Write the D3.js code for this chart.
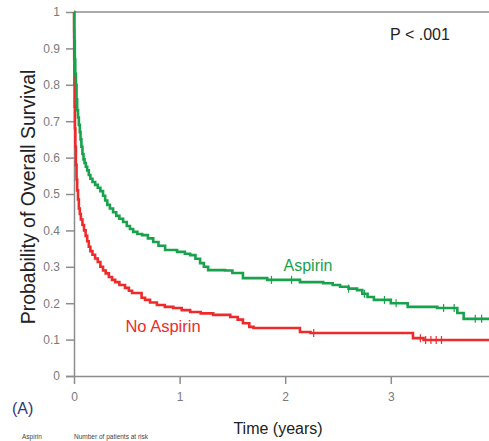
<!DOCTYPE html>
<html>
<head>
<meta charset="utf-8">
<script src="https://cdn.jsdelivr.net/npm/d3@7"></script>
<style>
  body { margin: 0; background: #fff; }
  svg { display: block; font-family: "Liberation Sans", Arial, sans-serif; }
</style>
</head>
<body>
<svg id="chart" width="489" height="441"></svg>
<script>
// Kaplan-Meier estimates: [time (years), survival]
var aspirinCurve = [
  [0, 1.0], [0.002, 0.95], [0.004, 0.92], [0.008, 0.87], [0.012, 0.83],
  [0.018, 0.8], [0.024, 0.76], [0.03, 0.73], [0.038, 0.71], [0.046, 0.69],
  [0.055, 0.67], [0.062, 0.65], [0.07, 0.63], [0.08, 0.61], [0.09, 0.595],
  [0.1, 0.585], [0.112, 0.575], [0.125, 0.565], [0.14, 0.552], [0.155, 0.542],
  [0.175, 0.533], [0.2, 0.525], [0.225, 0.517], [0.25, 0.508], [0.275, 0.495],
  [0.295, 0.482], [0.315, 0.47], [0.34, 0.46], [0.37, 0.45], [0.4, 0.44],
  [0.43, 0.432], [0.465, 0.423], [0.5, 0.412], [0.53, 0.404], [0.56, 0.396],
  [0.6, 0.39], [0.645, 0.387], [0.7, 0.378], [0.75, 0.368], [0.8, 0.358],
  [0.863, 0.346], [0.976, 0.341], [1.05, 0.336], [1.1, 0.332], [1.15, 0.322],
  [1.194, 0.31], [1.23, 0.3], [1.27, 0.291], [1.43, 0.29], [1.5, 0.283],
  [1.6, 0.269], [1.83, 0.264], [2.14, 0.258], [2.36, 0.255], [2.45, 0.25],
  [2.52, 0.245], [2.6, 0.24], [2.68, 0.236], [2.73, 0.226], [2.78, 0.217],
  [2.84, 0.209], [3.0, 0.2], [3.16, 0.19], [3.44, 0.187], [3.63, 0.173],
  [3.69, 0.157], [3.93, 0.157]
];
var noAspirinCurve = [
  [0, 1.0], [0.001, 0.93], [0.002, 0.87], [0.004, 0.8], [0.006, 0.74],
  [0.009, 0.68], [0.013, 0.63], [0.018, 0.58], [0.024, 0.54], [0.03, 0.51],
  [0.038, 0.485], [0.046, 0.46], [0.055, 0.445], [0.065, 0.43], [0.08, 0.415],
  [0.095, 0.4], [0.11, 0.385], [0.125, 0.37], [0.14, 0.355], [0.155, 0.343],
  [0.175, 0.333], [0.2, 0.323], [0.225, 0.313], [0.25, 0.3], [0.275, 0.29],
  [0.3, 0.282], [0.33, 0.272], [0.36, 0.264], [0.39, 0.258], [0.43, 0.25],
  [0.483, 0.242], [0.52, 0.234], [0.55, 0.228], [0.62, 0.228], [0.64, 0.215],
  [0.673, 0.209], [0.72, 0.202], [0.785, 0.195], [0.86, 0.19], [0.94, 0.187],
  [1.02, 0.181], [1.1, 0.176], [1.2, 0.172], [1.318, 0.168], [1.48, 0.162],
  [1.55, 0.155], [1.6, 0.145], [1.66, 0.135], [1.7, 0.132], [2.14, 0.121],
  [2.24, 0.118], [3.21, 0.104], [3.31, 0.099], [3.93, 0.099]
];
// censoring marks (years)
var aspirinCensored = [1.87, 2.06, 2.6, 2.75, 2.94, 3.05, 3.5, 3.6, 3.8, 3.86];
var noAspirinCensored = [2.27, 3.28, 3.33, 3.38, 3.43, 3.48];

var yTicks = [0, 0.1, 0.2, 0.3, 0.4, 0.5, 0.6, 0.7, 0.8, 0.9, 1];
var xTicks = [0, 1, 2, 3];

var COLOR = { ASPIRIN: "#18a24b", NO_ASPIRIN: "#ee2b2b", AXIS: "#8c8c8c", TICK_TEXT: "#7a7a7a" };

var svg = d3.select("#chart");

var x = d3.scaleLinear().domain([0, 3.93]).range([74, 489]);
var y = d3.scaleLinear().domain([0, 1]).range([376, 12]);

// top frame line
svg.append("line")
  .attr("x1", x(0)).attr("x2", 489)
  .attr("y1", y(1)).attr("y2", y(1))
  .attr("stroke", COLOR.AXIS).attr("stroke-width", 1.5);

// y axis
var yAxis = svg.append("g")
  .attr("transform", "translate(" + x(0) + ",0)")
  .call(d3.axisLeft(y).tickValues(yTicks).tickSize(8).tickPadding(6)
    .tickFormat(function (d) { return d === 0 || d === 1 ? d : d3.format(".1f")(d); }));

// x axis
var xAxis = svg.append("g")
  .attr("transform", "translate(0," + y(0) + ")")
  .call(d3.axisBottom(x).tickValues(xTicks).tickSize(8).tickPadding(8).tickFormat(d3.format("d")));

xAxis.select(".domain").attr("d", "M66,0.5H489");
yAxis.select(".domain").attr("d", "M0.5," + y(1) + "V" + y(0));

[xAxis, yAxis].forEach(function (g) {
  g.selectAll(".domain, .tick line").attr("stroke", COLOR.AXIS).attr("stroke-width", 1.5);
  g.selectAll(".tick text")
    .attr("fill", COLOR.TICK_TEXT)
    .style("font-size", "12px")
    .style("font-family", "'Liberation Sans Narrow', 'Liberation Sans', Arial, sans-serif");
});

// survival curves
var line = d3.line()
  .x(function (d) { return x(d[0]); })
  .y(function (d) { return y(d[1]); })
  .curve(d3.curveStepAfter);

function stepValue(curve, t) {
  var v = curve[0][1];
  curve.forEach(function (p) { if (p[0] <= t) v = p[1]; });
  return v;
}

var series = [
  { name: "No Aspirin", curve: noAspirinCurve, censored: noAspirinCensored, color: COLOR.NO_ASPIRIN },
  { name: "Aspirin", curve: aspirinCurve, censored: aspirinCensored, color: COLOR.ASPIRIN }
];

series.forEach(function (s) {
  svg.append("path")
    .datum(s.curve)
    .attr("d", line)
    .attr("fill", "none")
    .attr("stroke", s.color)
    .attr("stroke-width", 2.6);

  svg.selectAll(null)
    .data(s.censored)
    .enter()
    .append("line")
    .attr("x1", function (d) { return x(d); })
    .attr("x2", function (d) { return x(d); })
    .attr("y1", function (d) { return y(stepValue(s.curve, d)) - 4; })
    .attr("y2", function (d) { return y(stepValue(s.curve, d)) + 4; })
    .attr("stroke", s.color)
    .attr("stroke-width", 1.2);
});

// labels
svg.append("text")
  .attr("x", 308).attr("y", 271)
  .attr("text-anchor", "middle")
  .attr("fill", COLOR.ASPIRIN)
  .style("font-size", "16px")
  .text("Aspirin");

svg.append("text")
  .attr("x", 163).attr("y", 332)
  .attr("text-anchor", "middle")
  .attr("fill", COLOR.NO_ASPIRIN)
  .style("font-size", "16.5px")
  .text("No Aspirin");

svg.append("text")
  .attr("x", 420).attr("y", 40)
  .attr("text-anchor", "middle")
  .attr("fill", "#222")
  .style("font-size", "16px")
  .text("P < .001");

svg.append("text")
  .attr("transform", "translate(35,197) rotate(-90)")
  .attr("text-anchor", "middle")
  .attr("fill", "#222")
  .style("font-size", "19.5px")
  .text("Probability of Overall Survival");

svg.append("text")
  .attr("x", 278).attr("y", 434)
  .attr("text-anchor", "middle")
  .attr("fill", "#222")
  .style("font-size", "16px")
  .text("Time (years)");

svg.append("text")
  .attr("x", 12).attr("y", 414)
  .attr("fill", "#2b3a78")
  .style("font-size", "16px")
  .text("(A)");

// risk-table header at the very bottom
svg.append("text")
  .attr("x", 22).attr("y", 439)
  .attr("fill", "#444")
  .style("font-size", "6.5px")
  .text("Aspirin");

svg.append("text")
  .attr("x", 74).attr("y", 439)
  .attr("fill", "#444")
  .style("font-size", "6.5px")
  .text("Number of patients at risk");
</script>
</body>
</html>
